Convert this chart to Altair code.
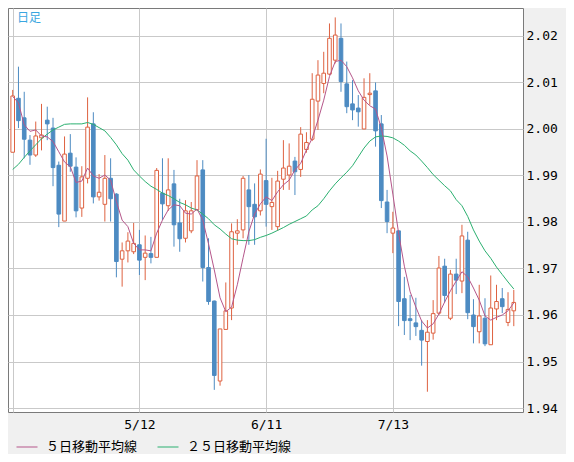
import altair as alt
import pandas as pd

# ---- data (index = trading day) ----
opens = [1.9950, 2.0066, 2.0024, 1.9976, 1.9944, 1.9981, 2.0019, 2.0002, 1.9922, 1.9802,
         1.9948, 1.9918, 1.9830, 1.9894, 2.0011, 1.9854, 1.9838, 1.9894, 1.9860, 1.9720,
         1.9738, 1.9736, 1.9751, 1.9724, 1.9732, 1.9724, 1.9862, 1.9835, 1.9882, 1.9798,
         1.9765, 1.9781, 1.9826, 1.9912, 1.9702, 1.9630, 1.9458, 1.9569, 1.9615, 1.9776,
         1.9783, 1.9869, 1.9838, 1.9824, 1.9889, 1.9833, 1.9790, 1.9892, 1.9901, 1.9931,
         1.9913, 1.9956, 1.9978, 2.0060, 2.0098, 2.0118, 2.0148, 2.0195, 2.0097, 2.0054,
         2.0045, 2.0000, 2.0074, 2.0082, 2.0011, 1.9843, 1.9776, 1.9781, 1.9635, 1.9592,
         1.9583, 1.9567, 1.9543, 1.9561, 1.9604, 1.9705, 1.9593, 1.9688, 1.9673, 1.9761,
         1.9600, 1.9564, 1.9593, 1.9536, 1.9613, 1.9635, 1.9584, 1.9609]
highs = [2.0084, 2.0134, 2.0080, 1.9987, 2.0016, 2.0054, 2.0048, 2.0024, 1.9930, 1.9984,
         1.9989, 1.9939, 1.9920, 2.0068, 2.0036, 1.9903, 1.9944, 1.9937, 1.9862, 1.9756,
         1.9778, 1.9798, 1.9783, 1.9771, 1.9768, 1.9916, 1.9937, 1.9937, 1.9912, 1.9850,
         1.9847, 1.9843, 1.9933, 1.9933, 1.9765, 1.9631, 1.9570, 1.9670, 1.9797, 1.9806,
         1.9899, 1.9901, 1.9883, 1.9913, 1.9979, 1.9895, 1.9910, 1.9976, 1.9969, 1.9940,
         2.0004, 1.9993, 2.0120, 2.0148, 2.0166, 2.0227, 2.0240, 2.0227, 2.0145, 2.0105,
         2.0073, 2.0109, 2.0120, 2.0100, 2.0030, 1.9869, 1.9822, 1.9782, 1.9682, 1.9643,
         1.9637, 1.9589, 1.9589, 1.9632, 1.9727, 1.9721, 1.9697, 1.9721, 1.9794, 1.9779,
         1.9634, 1.9665, 1.9636, 1.9685, 1.9665, 1.9658, 1.9649, 1.9654]
lows = [1.9950, 2.0002, 1.9937, 1.9923, 1.9940, 1.9954, 1.9976, 1.9877, 1.9789, 1.9802,
        1.9908, 1.9810, 1.9811, 1.9883, 1.9840, 1.9846, 1.9801, 1.9801, 1.9681, 1.9661,
        1.9713, 1.9731, 1.9686, 1.9675, 1.9711, 1.9724, 1.9804, 1.9824, 1.9747, 1.9736,
        1.9756, 1.9776, 1.9826, 1.9672, 1.9622, 1.9439, 1.9448, 1.9569, 1.9589, 1.9751,
        1.9765, 1.9751, 1.9751, 1.9814, 1.9790, 1.9783, 1.9781, 1.9869, 1.9869, 1.9858,
        1.9897, 1.9949, 1.9974, 1.9998, 2.0077, 2.0116, 2.0141, 2.0080, 2.0034, 2.0019,
        2.0005, 2.0000, 2.0052, 1.9962, 1.9830, 1.9776, 1.9733, 1.9576, 1.9557, 1.9546,
        1.9555, 1.9491, 1.9435, 1.9547, 1.9600, 1.9627, 1.9589, 1.9645, 1.9647, 1.9591,
        1.9539, 1.9539, 1.9533, 1.9536, 1.9589, 1.9604, 1.9576, 1.9576]
closes = [2.0071, 2.0018, 1.9978, 1.9944, 1.9985, 1.9987, 2.0011, 1.9917, 1.9817, 1.9946,
          1.9920, 1.9824, 1.9897, 2.0004, 1.9854, 1.9864, 1.9894, 1.9850, 1.9715, 1.9738,
          1.9759, 1.9754, 1.9718, 1.9733, 1.9724, 1.9911, 1.9839, 1.9869, 1.9794, 1.9764,
          1.9824, 1.9824, 1.9899, 1.9702, 1.9629, 1.9470, 1.9570, 1.9609, 1.9779, 1.9781,
          1.9894, 1.9833, 1.9811, 1.9903, 1.9838, 1.9842, 1.9888, 1.9916, 1.9920, 1.9908,
          1.9989, 1.9971, 2.0064, 2.0116, 2.0120, 2.0195, 2.0202, 2.0102, 2.0048, 2.0041,
          2.0037, 2.0068, 2.0077, 1.9996, 1.9846, 1.9801, 1.9787, 1.9629, 1.9588, 1.9588,
          1.9575, 1.9546, 1.9563, 1.9603, 1.9701, 1.9642, 1.9688, 1.9675, 1.9770, 1.9605,
          1.9575, 1.9598, 1.9538, 1.9615, 1.9629, 1.9618, 1.9612, 1.9627]
ma5 = [2.0070, 2.0056, 2.0009, 1.9995, 1.9998, 1.9985, 1.9983, 1.9973, 1.9951, 1.9929,
       1.9919, 1.9885, 1.9888, 1.9916, 1.9899, 1.9894, 1.9901, 1.9890, 1.9844, 1.9804,
       1.9790, 1.9754, 1.9740, 1.9740, 1.9738, 1.9776, 1.9804, 1.9826, 1.9837, 1.9835,
       1.9819, 1.9817, 1.9828, 1.9804, 1.9753, 1.9697, 1.9637, 1.9607, 1.9617, 1.9665,
       1.9723, 1.9779, 1.9817, 1.9839, 1.9854, 1.9846, 1.9865, 1.9880, 1.9890, 1.9912,
       1.9926, 1.9955, 1.9980, 2.0019, 2.0062, 2.0113, 2.0145, 2.0148, 2.0134, 2.0110,
       2.0082, 2.0062, 2.0050, 2.0043, 2.0002, 1.9942, 1.9860, 1.9776, 1.9705, 1.9650,
       1.9617, 1.9587, 1.9572, 1.9581, 1.9602, 1.9628, 1.9652, 1.9673, 1.9693, 1.9682,
       1.9658, 1.9632, 1.9598, 1.9589, 1.9595, 1.9600, 1.9609, 1.9626]
ma25 = [1.9913, 1.9924, 1.9939, 1.9953, 1.9966, 1.9979, 1.9989, 1.9998, 2.0004, 2.0010,
        2.0011, 2.0011, 2.0011, 2.0014, 2.0010, 2.0003, 1.9996, 1.9982, 1.9966, 1.9947,
        1.9933, 1.9912, 1.9899, 1.9887, 1.9877, 1.9870, 1.9862, 1.9857, 1.9850, 1.9842,
        1.9837, 1.9830, 1.9826, 1.9817, 1.9807, 1.9794, 1.9785, 1.9774, 1.9764, 1.9761,
        1.9760, 1.9760, 1.9762, 1.9767, 1.9771, 1.9776, 1.9782, 1.9788, 1.9795, 1.9801,
        1.9807, 1.9813, 1.9826, 1.9835, 1.9850, 1.9867, 1.9882, 1.9895, 1.9907, 1.9921,
        1.9940, 1.9959, 1.9974, 1.9983, 1.9985, 1.9984, 1.9981, 1.9974, 1.9965, 1.9953,
        1.9944, 1.9931, 1.9917, 1.9902, 1.9890, 1.9878, 1.9867, 1.9848, 1.9835, 1.9812,
        1.9783, 1.9759, 1.9738, 1.9722, 1.9703, 1.9687, 1.9671, 1.9656]
day_index = list(range(1, len(opens) + 1))

tick_days = [1, 23, 45, 67]
tick_labels = ["", "5/12", "6/11", "7/13"]
price_ticks = [1.94, 1.95, 1.96, 1.97, 1.98, 1.99, 2.00, 2.01, 2.02]
series_names = ["５日移動平均線", "２５日移動平均線"]

# ---- styling ----
RED = "#de6241"
BLUE = "#4d8bc2"
MA5_COLOR = "#b5568a"
MA25_COLOR = "#2bb070"
GRID = "#c9c9c9"
MONO = "DejaVu Sans Mono"
JP = "Noto Sans CJK JP"

candles = pd.DataFrame({"day": day_index, "open": opens, "high": highs,
                        "low": lows, "close": closes})
candles["dir"] = ["up" if c >= o else "down" for o, c in zip(opens, closes)]

ma = pd.DataFrame({
    "day": day_index * 2,
    "value": ma25 + ma5,
    "series": [series_names[1]] * len(ma25) + [series_names[0]] * len(ma5),
})

label_expr = " : ".join(
    f"datum.value == {d} ? '{l}'" for d, l in zip(tick_days, tick_labels)
) + " : ''"

x_scale = alt.Scale(domain=[1.0511, 88.732], nice=False, zero=False)
y_scale = alt.Scale(domain=[1.93914, 2.02602], nice=False, zero=False)

x_axis = alt.Axis(values=tick_days, labelExpr=label_expr, grid=True, gridColor=GRID,
                  gridWidth=1, ticks=False, domain=False, labelPadding=6,
                  labelFont=MONO, labelFontSize=13, labelColor="#000000",
                  title=None, labelFlush=False, labelOverlap=False)
y_axis = alt.Axis(orient="right", values=price_ticks, format=".2f", grid=True,
                  gridColor=GRID, gridWidth=1, ticks=False, domain=False,
                  labelPadding=3, labelFont=MONO, labelFontSize=13,
                  labelColor="#000000", title=None, labelFlush=False,
                  labelOverlap=False)

X = alt.X("day:Q", scale=x_scale, axis=x_axis)
dir_stroke = alt.Stroke("dir:N", scale=alt.Scale(domain=["up", "down"], range=[RED, BLUE]),
                        legend=None)
dir_fill = alt.Fill("dir:N", scale=alt.Scale(domain=["up", "down"], range=["#ffffff", BLUE]),
                    legend=None)

wicks = alt.Chart(candles).mark_rule(strokeWidth=1, clip=True).encode(
    x=X,
    y=alt.Y("low:Q", scale=y_scale, axis=y_axis),
    y2="high:Q",
    stroke=dir_stroke,
)

bodies = alt.Chart(candles).mark_bar(size=3.6, strokeWidth=1, clip=True).encode(
    x=X,
    y=alt.Y("open:Q", scale=y_scale, axis=y_axis),
    y2="close:Q",
    fill=dir_fill,
    stroke=dir_stroke,
)

lines = alt.Chart(ma).mark_line(strokeWidth=1, clip=True).encode(
    x=X,
    y=alt.Y("value:Q", scale=y_scale, axis=y_axis),
    color=alt.Color(
        "series:N",
        scale=alt.Scale(domain=series_names, range=[MA5_COLOR, MA25_COLOR]),
        legend=alt.Legend(
            title=None, orient="none", legendX=8, legendY=428, direction="horizontal",
            symbolType="stroke", symbolSize=441, symbolStrokeWidth=1,
            labelFont=JP, labelFontSize=13, labelColor="#000000", labelOffset=8,
            columnPadding=17, padding=0, labelLimit=200,
        ),
    ),
    detail="series:N",
)

chart = alt.layer(wicks, bodies, lines).properties(
    width=515,
    height=404,
    title=alt.TitleParams(text="日足", anchor="start", orient="top", offset=-17, dx=9,
                          fontSize=12, font=JP, color="#3aa6e0", fontWeight="normal"),
    autosize=alt.AutoSizeParams(type="none"),
    padding={"left": 0, "top": 0, "right": 43, "bottom": 42},
    background="#f0f0f0",
).configure_view(
    fill="#ffffff", stroke="#7a7a7a", strokeWidth=1
)

chart.save("out.html", embed_options={"renderer": "svg", "actions": False})
